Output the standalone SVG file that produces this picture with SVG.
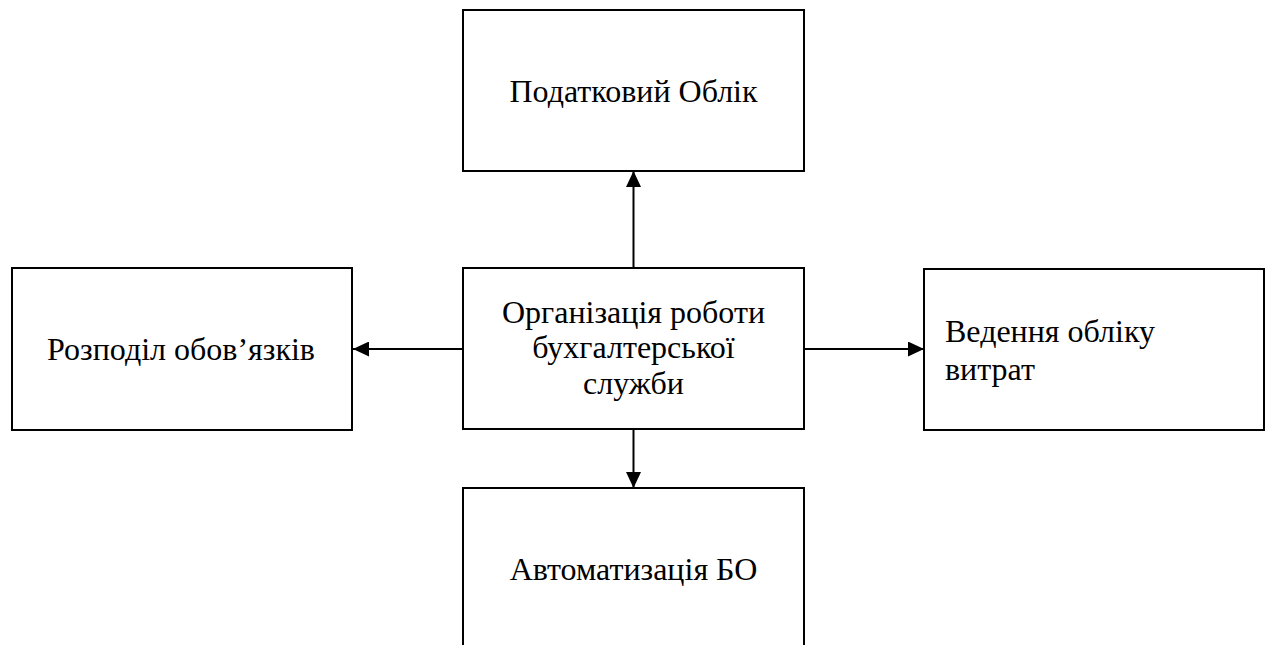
<svg xmlns="http://www.w3.org/2000/svg" width="1270" height="645" viewBox="0 0 1270 645">
<defs>
<marker id="ah" markerUnits="userSpaceOnUse" markerWidth="16" markerHeight="15" refX="16" refY="7.5" orient="auto" viewBox="0 0 16 15"><path d="M0,0 L16,7.5 L0,15 Z" fill="#000"/></marker>
</defs>
<rect width="1270" height="645" fill="#fff"/>
<g id="n-top"><rect fill="#fff" stroke="#000" stroke-width="2" x="463" y="10" width="341" height="161"/><text font-family="Liberation Serif, Times New Roman, serif" font-size="32" fill="#000" text-anchor="middle" x="633.5" y="102">Податковий Облік</text></g>
<g id="n-center"><rect fill="#fff" stroke="#000" stroke-width="2" x="463" y="268" width="341" height="161"/>
<text font-family="Liberation Serif, Times New Roman, serif" font-size="32" fill="#000" text-anchor="middle" x="633.5" y="323">Організація роботи</text>
<text font-family="Liberation Serif, Times New Roman, serif" font-size="32" fill="#000" text-anchor="middle" x="633.5" y="358">бухгалтерської</text>
<text font-family="Liberation Serif, Times New Roman, serif" font-size="32" fill="#000" text-anchor="middle" x="633.5" y="394">служби</text></g>
<g id="n-left"><rect fill="#fff" stroke="#000" stroke-width="2" x="12" y="268" width="340" height="162"/><text font-family="Liberation Serif, Times New Roman, serif" font-size="32" fill="#000" text-anchor="middle" x="181" y="360">Розподіл обов’язків</text></g>
<g id="n-right"><rect fill="#fff" stroke="#000" stroke-width="2" x="924" y="269" width="340" height="161"/>
<text font-family="Liberation Serif, Times New Roman, serif" font-size="32" fill="#000" x="945" y="342">Ведення обліку</text>
<text font-family="Liberation Serif, Times New Roman, serif" font-size="32" fill="#000" x="945" y="380">витрат</text></g>
<g id="n-bottom"><rect fill="#fff" stroke="#000" stroke-width="2" x="463" y="488" width="341" height="200"/><text font-family="Liberation Serif, Times New Roman, serif" font-size="32" fill="#000" text-anchor="middle" x="633.5" y="580">Автоматизація БО</text></g>
<g id="connectors" stroke="#000" stroke-width="2" fill="none">
<line x1="633.5" y1="268" x2="633.5" y2="171" marker-end="url(#ah)"/>
<line x1="463" y1="349" x2="353" y2="349" marker-end="url(#ah)"/>
<line x1="804" y1="349" x2="924" y2="349" marker-end="url(#ah)"/>
<line x1="633.5" y1="429" x2="633.5" y2="488" marker-end="url(#ah)"/>
</g>
</svg>
